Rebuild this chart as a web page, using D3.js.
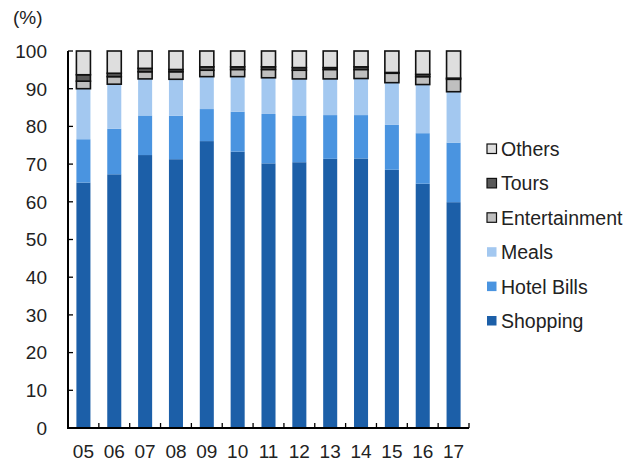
<!DOCTYPE html>
<html><head><meta charset="utf-8">
<script src="https://cdn.jsdelivr.net/npm/d3@7"></script>
<style>body{margin:0;background:#fff}svg{display:block}text{font-family:"Liberation Sans",Arial,sans-serif;fill:#222}</style>
</head><body>
<svg id="c" width="642" height="464"></svg>
<script>
const years = ["05","06","07","08","09","10","11","12","13","14","15","16","17"];
const shopping = [65.1,67.3,72.4,71.3,76.1,73.3,70.2,70.5,71.4,71.5,68.5,64.8,59.9];
const hotelBills = [11.5,12.1,10.5,11.5,8.5,10.6,13.1,12.4,11.6,11.5,11.9,13.4,15.8];
const meals = [13.4,11.8,9.7,9.7,8.6,9.3,9.6,9.7,9.6,9.7,11.2,12.9,13.5];
const entertainment = [2.0,2.0,1.9,2.0,1.7,1.9,2.2,2.3,2.5,2.4,2.5,2.1,3.3];
const tours = [1.7,0.9,0.9,0.6,0.9,0.7,0.7,0.7,0.5,0.7,0.2,0.6,0.3];
const others = [6.3,5.9,4.6,4.9,4.2,4.2,4.2,4.4,4.4,4.2,5.7,6.2,7.2];
const yTicks = [0,10,20,30,40,50,60,70,80,90,100];

const series = [
  {name:"Shopping", values:shopping, color:"#1c5fa8", stroke:null},
  {name:"Hotel Bills", values:hotelBills, color:"#4a94e0", stroke:null},
  {name:"Meals", values:meals, color:"#a3c8f0", stroke:null},
  {name:"Entertainment", values:entertainment, color:"#bfbfbf", stroke:"#111"},
  {name:"Tours", values:tours, color:"#595959", stroke:"#111"},
  {name:"Others", values:others, color:"#dedede", stroke:"#111"}
];

const svg = d3.select("#c");
const L=68, R=469, T=51, B=428;
const FS = "19px";
const x = d3.scaleBand().domain(years).range([L,R]).paddingInner(0.545).paddingOuter(0.2725);
const y = d3.scaleLinear().domain([0,100]).range([B,T]);

const rows = years.map((yr,i)=>{const o={year:yr}; series.forEach(s=>o[s.name]=s.values[i]); return o;});
const stack = d3.stack().keys(series.map(s=>s.name))(rows);

stack.forEach((layer,li)=>{
  const s = series[li];
  svg.append("g").selectAll("rect").data(layer).join("rect")
    .attr("x", d=>x(d.data.year))
    .attr("width", x.bandwidth())
    .attr("y", d=>y(d[1]))
    .attr("height", d=>Math.max(0,y(d[0])-y(d[1])))
    .attr("fill", s.color)
    .attr("stroke", s.stroke || "none")
    .attr("stroke-width", s.stroke ? 1.6 : 0);
});

// Y axis
const ya = svg.append("g");
ya.append("line").attr("x1",L).attr("x2",L).attr("y1",T).attr("y2",B).attr("stroke","#000").attr("stroke-width",2);
ya.selectAll("line.t").data(yTicks).join("line").attr("class","t")
  .attr("x1",L).attr("x2",L+5).attr("y1",d=>y(d)).attr("y2",d=>y(d)).attr("stroke","#000").attr("stroke-width",1.3);
ya.selectAll("text").data(yTicks).join("text")
  .attr("x",47).attr("y",d=>y(d)).attr("dy","0.36em").attr("text-anchor","end")
  .style("font-size",FS).text(d=>d);
svg.append("text").attr("x",13).attr("y",24).style("font-size",FS).text("(%)");

// X axis
const xa = svg.append("g");
xa.append("line").attr("x1",L-1).attr("x2",R).attr("y1",B).attr("y2",B).attr("stroke","#000").attr("stroke-width",2);
const bounds = d3.range(1, years.length+1).map(k=>L + k*(R-L)/years.length);
xa.selectAll("line.t").data(bounds).join("line").attr("class","t")
  .attr("x1",d=>d).attr("x2",d=>d).attr("y1",B).attr("y2",B-5).attr("stroke","#000").attr("stroke-width",1.3);
xa.selectAll("text").data(years).join("text")
  .attr("x",d=>x(d)+x.bandwidth()/2).attr("y",451).attr("dy","0.36em").attr("text-anchor","middle")
  .style("font-size",FS).text(d=>d);

// Legend
const leg = series.slice().reverse();
const lg = svg.append("g");
leg.forEach((s,i)=>{
  const ly = 149 + i*34.4;
  lg.append("rect").attr("x",487).attr("y",ly-5).attr("width",9.5).attr("height",9.5)
    .attr("fill",s.color).attr("stroke",s.stroke||"none").attr("stroke-width",s.stroke?1.2:0);
  lg.append("text").attr("x",501).attr("y",ly).attr("dy","0.36em").style("font-size","19.5px").text(s.name);
});
</script>
</body></html>
